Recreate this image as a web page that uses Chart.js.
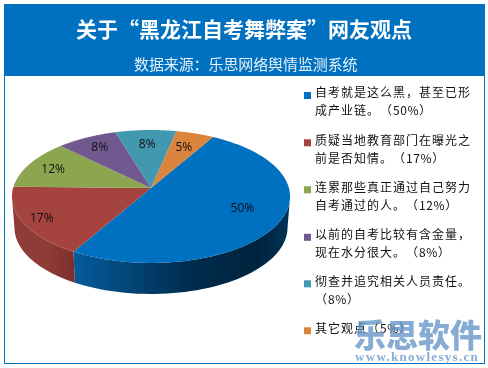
<!DOCTYPE html>
<html><head><meta charset="utf-8">
<style>html,body{margin:0;padding:0;background:#fff}#wrap{position:absolute;left:0;top:0;width:488px;height:368px}</style>
<script src="https://cdn.jsdelivr.net/npm/chart.js@4/dist/chart.umd.js"></script>
</head><body><div id="wrap"><canvas id="c" width="488" height="368"></canvas></div>
<script>
const categories = [
  ["自考就是这么黑，甚至已形","成产业链。（50%）"],
  ["质疑当地教育部门在曝光之","前是否知情。（17%）"],
  ["连累那些真正通过自己努力","自考通过的人。（12%）"],
  ["以前的自考比较有含金量，","现在水分很大。（8%）"],
  ["彻查并追究相关人员责任。","（8%）"],
  ["其它观点（5%）"]
];
const values = [50,17,12,8,8,5];
const sliceLabels = ["50%","17%","12%","8%","8%","5%"];
const topColors = ["#0070C0","#A5443F","#8CA64F","#71588F","#4198AF","#DB843D"];
const sideDark = ["#002B4C","#7A2F2B","#6a7d3b","#553f6c","#2f7286","#a76430"];
const sideLight = ["#055C9C","#8F3B37","#7d9446","#634d7e","#3a879b","#c27536"];
const titleText = "关于“黑龙江自考舞弊案”网友观点";
const subText = "数据来源：乐思网络舆情监测系统";
const wmMain = "乐思软件";
const wmUrl = "www.knowlesys.cn";
const CJK = '"Noto Sans CJK SC","Noto Sans",sans-serif';

// perspective projection of the circular pie onto the tilted disc
const P = -0.1278, CX = 151, AX = 137.9, Y0 = 188, AY = 41.38, DEPTH = 31;
function proj(u, v, bottom){
  const w = 1 + P*v;
  const xs = bottom ? 0.982 : 1;
  return [CX + xs*AX*u/w, (Y0 + AY*v)/w + (bottom ? DEPTH : 0)];
}
function rimPoint(a, r, bottom){ return proj(r*Math.cos(a), r*Math.sin(a), bottom); }

// full-width glyphs keep their full advance (no punctuation squeezing)
function spacedText(x, text, left, y, wide, gap){
  let px = left;
  for(const ch of text){
    const code = ch.charCodeAt(0);
    const isWide = code > 0x2E7F || code === 0x201C || code === 0x201D;
    if(code === 0x201C){
      x.textAlign='right'; x.fillText(ch, px+wide, y); x.textAlign='left';
    } else {
      x.fillText(ch, px, y);
    }
    px += isWide ? wide : x.measureText(ch).width + gap;
  }
}

let currentArcs = [];
Chart.ArcElement.prototype.draw = function(ctx){
  const i = currentArcs.indexOf(this);
  const a0 = this.startAngle, a1 = this.endAngle, N = 80;
  ctx.save();
  // side wall (visible only on the near half of the rim)
  const vis = [];
  for(let k=0;k<=N;k++){
    const a = a0+(a1-a0)*k/N;
    if(Math.sin(a) > 0.128) vis.push(a);
  }
  if(vis.length>1){
    const s = rimPoint(vis[0],1), e = rimPoint(vis[vis.length-1],1);
    const xa = Math.min(s[0],e[0]), xb = Math.max(s[0],e[0]);
    const g = ctx.createLinearGradient(xa,0,xb,0);
    if(i===0){
      g.addColorStop(0,sideLight[0]); g.addColorStop(0.55,sideDark[0]);
      g.addColorStop(0.85,"#00243F"); g.addColorStop(1,"#003358");
    } else {
      g.addColorStop(0,sideLight[i]); g.addColorStop(0.6,sideLight[i]); g.addColorStop(1,sideDark[i]);
    }
    ctx.fillStyle = g;
    ctx.beginPath();
    vis.forEach((a,k)=>{const p=rimPoint(a,1,false); k?ctx.lineTo(p[0],p[1]):ctx.moveTo(p[0],p[1]);});
    vis.slice().reverse().forEach(a=>{const p=rimPoint(a,1,true); ctx.lineTo(p[0],p[1]);});
    ctx.closePath(); ctx.fill();
  }
  // top face
  ctx.fillStyle = topColors[i];
  ctx.beginPath();
  const c = proj(0,0);
  ctx.moveTo(c[0],c[1]);
  for(let k=0;k<=N;k++){
    const p = rimPoint(a0+(a1-a0)*k/N,1);
    ctx.lineTo(p[0],p[1]);
  }
  ctx.closePath(); ctx.fill();
  ctx.restore();
};

const frame = {
  id:'frame',
  beforeDraw(chart){
    const x = chart.ctx;
    x.save();
    x.fillStyle='#fff'; x.fillRect(0,0,488,368);
    x.fillStyle='#0070C0';
    x.fillRect(4,4,481,72);
    x.fillRect(4,4,1,360); x.fillRect(484,4,1,360); x.fillRect(4,363,481,1);
    x.textBaseline='middle'; x.textAlign='left'; x.fillStyle='#fff';
    x.font='bold 21px '+CJK; spacedText(x,titleText,76,29,21,0);
    x.fillStyle='#E6F0F8';
    x.font='15px '+CJK; spacedText(x,subText,134,64,14.9,0);
    x.restore();
  },
  beforeDatasetsDraw(chart){ currentArcs = chart.getDatasetMeta(0).data; },
  afterDatasetsDraw(chart){
    const x = chart.ctx, arcs = chart.getDatasetMeta(0).data;
    x.save();
    // slice labels
    x.font='12px "Open Sans","DejaVu Sans",sans-serif'; x.fillStyle='#111';
    x.textAlign='center'; x.textBaseline='middle';
    const labelR=[0.73,0.86,0.8,0.78,0.72,0.72], labelDy=[-4,1,1,0,0,0];
    arcs.forEach((el,i)=>{
      const m=(el.startAngle+el.endAngle)/2;
      const p=rimPoint(m,labelR[i]);
      x.fillText(sliceLabels[i],p[0],p[1]+labelDy[i]);
    });
    // legend
    x.textAlign='left'; x.textBaseline='middle';
    x.font='12px '+CJK;
    const tops=[92.7,140,187,234.5,281,328];
    categories.forEach((lines,i)=>{
      x.fillStyle=topColors[i];
      x.fillRect(304,tops[i]-0.7,7,7);
      x.fillStyle='#111';
      lines.forEach((t,j)=>spacedText(x,t,315,tops[i]+j*18,13,0.6));
    });
    // watermark
    x.globalAlpha=0.74; x.fillStyle='#5C8FC4';
    x.font='900 32px '+CJK; x.letterSpacing='0px';
    x.fillText(wmMain,354,335);
    x.font='bold 13px "Liberation Serif",serif'; x.letterSpacing='1.3px';
    x.fillText(wmUrl,355,358);
    x.restore();
  }
};

new Chart(document.getElementById('c'),{
  type:'pie',
  data:{labels:categories.map(l=>l.join('')),datasets:[{data:values,backgroundColor:topColors,borderWidth:0}]},
  options:{
    responsive:false,animation:false,rotation:30,
    layout:{padding:0},
    plugins:{legend:{display:false},tooltip:{enabled:false},title:{display:false}}
  },
  plugins:[frame]
});
</script></body></html>
